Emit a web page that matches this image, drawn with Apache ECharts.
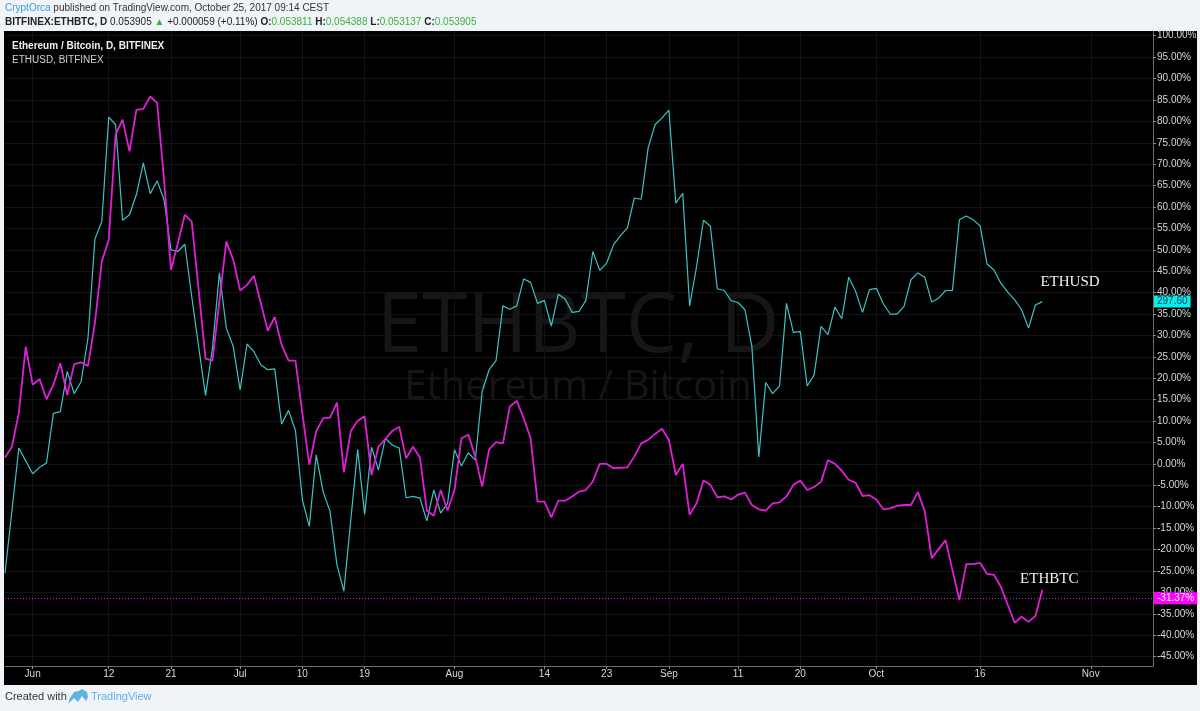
<!DOCTYPE html>
<html><head><meta charset="utf-8">
<script src="https://cdn.jsdelivr.net/npm/echarts@6/dist/echarts.min.js"></script>
<style>html,body{margin:0;padding:0;background:#f0f3f8;}#c{width:1200px;height:711px;}</style>
</head><body><div id="c"></div>
<script>
// ---- data ----
const startDate = '2017-05-28';
const dayCount = 167;
const ethbtc = [1.5,4.0,11.9,27.4,18.5,19.8,15.1,18.5,23.5,16.1,23.3,23.7,22.9,32.9,47.3,52.3,76.9,80.4,73.0,82.7,
82.9,85.8,84.3,66.4,45.3,51.6,58.2,56.6,40.7,24.6,24.1,38.0,51.9,47.7,40.5,41.8,43.9,37.5,31.1,34.3,
27.8,24.1,24.1,11.8,-0.2,7.6,10.7,10.8,14.3,-2.0,7.6,10.1,11.1,-2.6,4.0,5.8,7.7,8.7,1.3,4.0,
1.5,-10.9,-12.1,-6.1,-10.9,-6.1,6.0,6.8,1.7,-5.3,3.4,5.1,4.8,13.4,14.7,10.7,6.0,-8.8,-8.8,-12.5,
-8.6,-8.6,-7.6,-6.5,-6.1,-4.1,0.0,0.0,-1.0,-0.9,-0.8,1.7,4.8,5.6,7.0,8.2,5.6,-2.6,0.0,-11.9,
-9.2,-3.9,-4.9,-7.8,-7.6,-8.3,-7.2,-6.7,-9.6,-10.6,-10.9,-9.2,-9.0,-7.6,-4.9,-3.9,-6.1,-5.4,-4.2,0.9,
0.0,-1.6,-3.7,-4.4,-7.5,-7.3,-8.3,-10.6,-10.4,-9.8,-9.6,-9.6,-6.6,-11.1,-22.0,-19.9,-17.8,-24.8,-31.8,-23.4,
-23.4,-23.1,-25.7,-25.9,-28.7,-32.9,-37.1,-35.7,-36.9,-35.5,-29.4];
const ethusd = [-25.5,-11.0,3.7,0.7,-2.3,-0.8,0.2,11.8,12.2,21.6,16.4,19.2,29.4,52.5,56.6,81.0,79.2,56.9,58.2,62.9,
70.3,63.1,66.1,61.7,50.0,49.6,51.3,39.1,27.4,16.0,27.0,44.6,31.7,27.4,17.3,28.0,26.2,23.1,22.0,22.2,
9.3,12.5,7.8,-8.4,-14.6,2.1,-6.5,-11.1,-23.6,-29.7,-13.1,3.4,-11.8,3.9,-1.4,6.0,4.4,3.7,-7.9,-7.6,
-8.0,-13.3,-6.1,-11.5,-9.2,3.3,-0.5,2.6,0.9,16.9,22.0,24.1,36.9,36.1,36.9,43.2,42.4,37.5,38.2,32.2,
39.6,38.5,35.4,35.6,38.2,49.6,45.2,46.9,51.2,53.3,55.1,62.1,61.8,73.8,79.2,80.8,82.6,60.9,63.2,36.9,
46.1,56.9,55.5,40.9,40.5,38.1,37.7,36.0,27.4,1.6,19.0,16.4,18.2,37.5,30.7,30.9,18.2,20.8,32.1,30.2,
36.6,33.9,43.6,40.3,35.4,40.7,41.0,37.4,35.0,35.0,36.8,43.0,44.6,43.6,37.8,38.7,40.5,40.5,57.0,57.9,
57.0,55.6,46.7,45.3,42.2,40.1,38.3,36.0,31.7,37.1,37.9];
const tickDates = ['2017-06-01','2017-06-12','2017-06-21','2017-07-01','2017-07-10','2017-07-19','2017-08-01','2017-08-14','2017-08-23','2017-09-01','2017-09-11','2017-09-20','2017-10-01','2017-10-16','2017-11-01'];
const tickLabels = ['Jun','12','21','Jul','10','19','Aug','14','23','Sep','11','20','Oct','16','Nov'];
const yTicks = [-45,-40,-35,-30,-25,-20,-15,-10,-5,0,5,10,15,20,25,30,35,40,45,50,55,60,65,70,75,80,85,90,95,100];
const lastEthbtc = -31.37;
const lastEthusdText = '297.60';

// categories (calendar days)
const dates = [];
{
  const d0 = new Date(startDate + 'T00:00:00Z');
  for (let i = 0; i < dayCount; i++) {
    const d = new Date(d0.getTime() + i * 86400000);
    dates.push(d.toISOString().slice(0, 10));
  }
}
const tickSet = {};
tickDates.forEach((d, k) => tickSet[d] = tickLabels[k]);
const isTick = (idx) => tickSet[dates[idx]] !== undefined;

const chart = echarts.init(document.getElementById('c'), null, {renderer: 'canvas'});
const axisFont = '"Liberation Sans", Arial, sans-serif';
const uiFont = '"Liberation Sans", Arial, sans-serif';
const wmFont = '"Open Sans", "Noto Sans", sans-serif';

chart.setOption({
  backgroundColor: '#f0f3f8',
  animation: false,
  grid: {left: 5, right: 47, top: 31, bottom: 45, containLabel: false},
  xAxis: {
    type: 'category', data: dates, boundaryGap: false,
    axisLine: {show: true, onZero: false, lineStyle: {color: '#6a6a6a', width: 1}},
    axisTick: {show: true, interval: (i) => isTick(i), length: 3, lineStyle: {color: '#8a8a8a'}},
    axisLabel: {interval: (i) => isTick(i), formatter: (v) => tickSet[v] || '', color: '#d8d8d8',
      fontSize: 10, fontFamily: axisFont, margin: 3},
    splitLine: {show: true, interval: (i) => isTick(i), lineStyle: {color: '#131313', width: 1}}
  },
  yAxis: {
    type: 'value', position: 'right', min: -47.2, max: 101.1,
    axisLine: {show: true, lineStyle: {color: '#6a6a6a'}},
    axisTick: {show: true, length: 3, customValues: yTicks, lineStyle: {color: '#8a8a8a'}},
    axisLabel: {customValues: yTicks, formatter: (v) => v.toFixed(2) + '%', color: '#d8d8d8',
      fontSize: 10, fontFamily: axisFont, margin: 4},
    splitLine: {show: true, lineStyle: {color: '#131313', width: 1}}
  },
  graphic: [
    {type: 'rect', z: -100, silent: true, shape: {x: 4, y: 31, width: 1193, height: 654}, style: {fill: '#000'}},
    {type: 'text', x: 5, y: 3, silent: true, style: {
      text: '{a|CryptOrca}{b| published on TradingView.com, October 25, 2017 09:14 CEST}',
      font: '10px ' + uiFont, verticalAlign: 'top',
      rich: {a: {fill: '#3a9fd8', fontSize: 10, fontFamily: uiFont}, b: {fill: '#333', fontSize: 10, fontFamily: uiFont}}}},
    {type: 'text', x: 5, y: 17, silent: true, style: {
      text: '{k|BITFINEX:ETHBTC, D} {b|0.053905} {g|▲}{b| +0.000059 (+0.11%)} {k|O:}{g|0.053811} {k|H:}{g|0.054388} {k|L:}{g|0.053137} {k|C:}{g|0.053905}',
      font: '10px ' + uiFont, verticalAlign: 'top',
      rich: {
        k: {fill: '#222', fontWeight: 'bold', fontSize: 10, fontFamily: uiFont},
        b: {fill: '#222', fontSize: 10, fontFamily: uiFont},
        g: {fill: '#3bb33b', fontSize: 10, fontFamily: uiFont}
      }}},
    {type: 'text', z: 100, x: 12, y: 41, silent: true, style: {text: 'Ethereum / Bitcoin, D, BITFINEX', font: 'bold 10px ' + uiFont, fill: '#f0f0f0', verticalAlign: 'top'}},
    {type: 'text', z: 100, x: 12, y: 55, silent: true, style: {text: 'ETHUSD, BITFINEX', font: '10px ' + uiFont, fill: '#d0d0d0', verticalAlign: 'top'}},
    {type: 'text', z: -50, silent: true, x: 578, y: 329, style: {text: 'ETHBTC, D', font: '82px ' + wmFont, fill: '#161616', align: 'center', verticalAlign: 'middle'}},
    {type: 'text', z: -50, silent: true, x: 578, y: 388, style: {text: 'Ethereum / Bitcoin', font: '40px ' + wmFont, fill: '#161616', align: 'center', verticalAlign: 'middle'}},
    {type: 'text', x: 5, y: 691, silent: true, style: {text: 'Created with', font: '11px ' + uiFont, fill: '#333', verticalAlign: 'top'}},
    {type: 'polygon', silent: true, shape: {points: [[68,704],[70,698],[74,692],[79,691],[82,689],[87,692],[88,697],[86,701],[82,696],[78,702],[74,698]]}, style: {fill: '#5cb3e0'}},
    {type: 'text', x: 91, y: 691, silent: true, style: {text: 'TradingView', font: '11px ' + uiFont, fill: '#5fb2de', verticalAlign: 'top'}}
  ],
  series: [
    {
      name: 'ETHUSD', type: 'line', data: ethusd, showSymbol: false, symbol: 'none',
      lineStyle: {color: '#3cc4c4', width: 1.2}, z: 3,
      markLine: {silent: true, symbol: 'none', animation: false,
        data: [{yAxis: ethusd[ethusd.length - 1]}],
        lineStyle: {color: 'rgba(0,0,0,0)', width: 0},
        label: {show: true, position: 'end', formatter: lastEthusdText, backgroundColor: '#00f0f0', color: '#234', fontSize: 10,
          fontFamily: axisFont, padding: [1, 3, 1, 3], distance: 1}},
      markPoint: {silent: true, symbol: 'circle', symbolSize: 0,
        data: [{coord: [dates[154], 42.5], value: 'ETHUSD'}],
        label: {show: true, formatter: 'ETHUSD', color: '#f2f2f2', fontSize: 15, fontFamily: '"Liberation Serif", "DejaVu Serif", serif'}}
    },
    {
      name: 'ETHBTC', type: 'line', data: ethbtc, showSymbol: false, symbol: 'none',
      lineStyle: {color: '#e020d6', width: 1.8}, z: 4,
      markLine: {silent: true, symbol: 'none', animation: false,
        data: [{yAxis: lastEthbtc}],
        lineStyle: {color: '#e020d6', type: [1, 2], width: 1},
        label: {position: 'end', formatter: lastEthbtc.toFixed(2) + '%', backgroundColor: '#ff00ff', color: '#fff', fontSize: 10,
          fontFamily: axisFont, padding: [1, 3, 1, 3], distance: 1}},
      markPoint: {silent: true, symbol: 'circle', symbolSize: 0,
        data: [{coord: [dates[151], -26.8], value: 'ETHBTC'}],
        label: {show: true, formatter: 'ETHBTC', color: '#f2f2f2', fontSize: 15, fontFamily: '"Liberation Serif", "DejaVu Serif", serif'}}
    }
  ]
});
</script></body></html>
